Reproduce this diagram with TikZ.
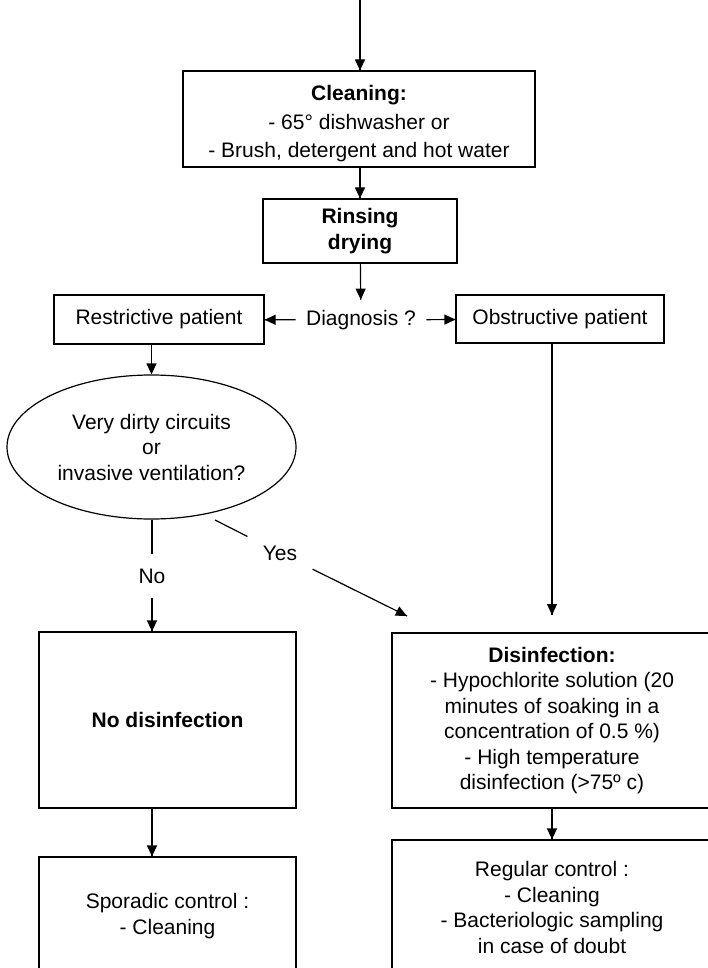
\documentclass[tikz,border=0pt]{standalone}
\usepackage{fontspec}
\setmainfont{Liberation Sans}
\tikzset{->/.style = {decoration={markings, mark=at position 1 with {\arrow{Triangle[width=10pt,length=11pt]}}}, postaction={decorate}}}
\tikzset{box/.style = {draw, align=center, inner sep=0, font=\fontsize{21}{25.5}\selectfont}}
\tikzset{lbl/.style = {minimum width=64, minimum height=42, inner sep=0, font=\fontsize{21}{25.5}\selectfont}}
\usetikzlibrary{arrows.meta,
                 shapes.geometric,
                 decorations.markings}

\begin{document}
\begin{tikzpicture}[x=1pt, y=-1pt, line width=1.2pt]
	\useasboundingbox (0,0) rectangle (707,968);
	\coordinate (start) at (360,0);
	\node [box, minimum width=352, minimum height=96, font=\fontsize{21}{28.5}\selectfont] (clean) at (359,119) {\rule{0pt}{25pt}\textbf{Cleaning:}\\- 65° dishwasher or\\- Brush, detergent and hot water};
	\node [box, minimum width=194, minimum height=64] (rinse) at (360,231) {\textbf{Rinsing}\\\textbf{drying}};
	\node [inner sep=10, font=\fontsize{21}{25.5}\selectfont] (diag) at (361,320) {Diagnosis ?};
	\node [box, minimum width=210, minimum height=49] (restr) at (159,319.5) {Restrictive patient};
	\node [box, minimum width=208, minimum height=48] (obs) at (560,319) {Obstructive patient};
	\node [box, ellipse, minimum width=289, minimum height=144] (quest) at (151.5,447) {Very dirty circuits\\or\\invasive ventilation?};
	\node [lbl] (no) at (152,576) {No};
	\node [lbl] (yes) at (280,553) {Yes};
	\coordinate (yesS) at (215,520);
	\coordinate (yesE) at (407,616);
	\coordinate (obsE) at (552,615);
	\node [box, minimum width=257, minimum height=176] (nodis) at (167.5,720) {\textbf{No disinfection}};
	\node [box, minimum width=320, minimum height=175] (dis) at (552,720.5) {\textbf{Disinfection:}\\- Hypochlorite solution (20\\minutes of soaking in a\\concentration of 0.5 \%)\\- High temperature\\disinfection (>75º c)};
	\node [box, minimum width=257, minimum height=118] (spor) at (167.5,916) {Sporadic control :\\- Cleaning};
	\node [box, minimum width=320, minimum height=135] (reg) at (552,907.5) {Regular control :\\- Cleaning\\- Bacteriologic sampling\\in case of doubt};
	\draw [->] (start) -- (clean.north -| start);
	\draw [->] (clean.south -| rinse) -- (rinse);
	\draw [->] (rinse) -- (diag);
	\draw [->] (diag) -- (restr);
	\draw [->] (diag) -- (obs);
	\draw [->] (restr.south -| quest) -- (quest);
	\draw (quest.south -| no) -- (no);
	\draw [->] (no) -- (nodis.north -| no);
	\draw (yesS) -- (yes);
	\draw [->] (yes) -- (yesE);
	\draw [->] (obs.south -| obsE) -- (obsE);
	\draw [->] (nodis.south -| no) -- (spor.north -| no);
	\draw [->] (dis) -- (reg);
\end{tikzpicture}
\end{document}
